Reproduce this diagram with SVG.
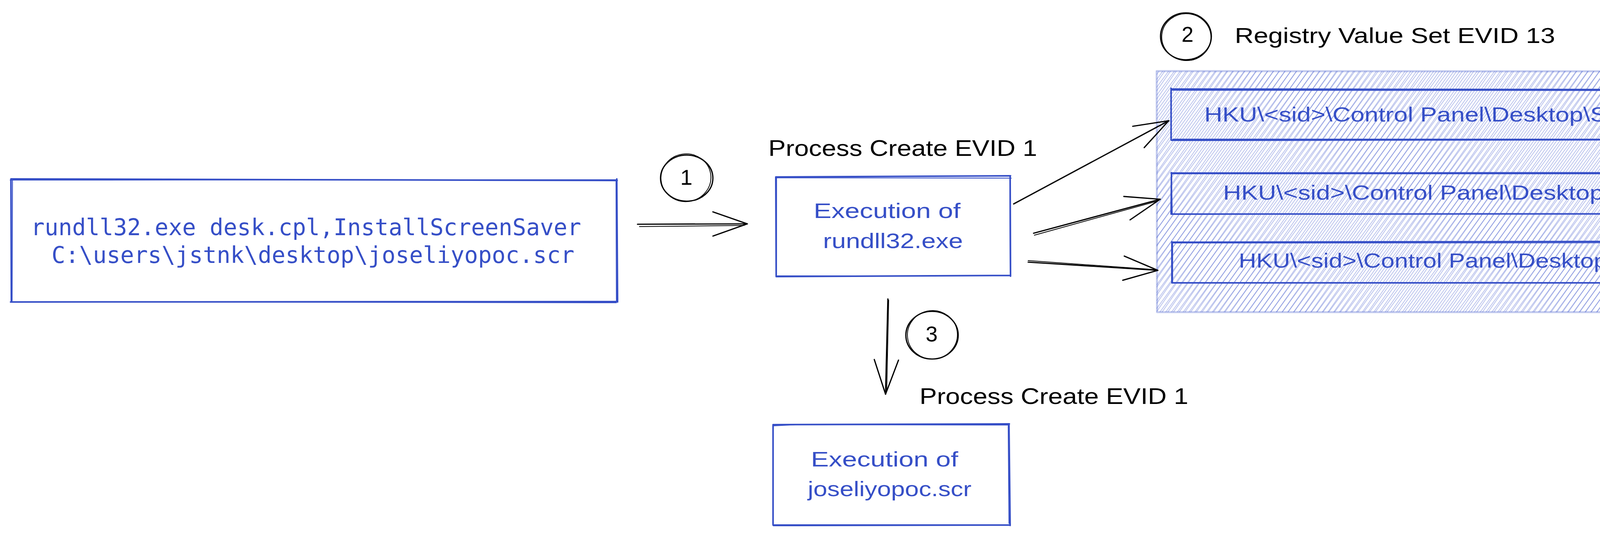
<svg xmlns="http://www.w3.org/2000/svg" width="4863" height="1372" viewBox="0 0 4863 1372">
  <defs>
    <style>
      .bx { fill: none; stroke: #364fc7; stroke-width: 4; stroke-linecap: round; stroke-linejoin: round; }
      .bx2 { fill: none; stroke: #364fc7; stroke-width: 2.2; stroke-linecap: round; stroke-linejoin: round; }
      .ln { fill: none; stroke: #000; stroke-width: 3.2; stroke-linecap: round; stroke-linejoin: round; }
      .ln2 { fill: none; stroke: #000; stroke-width: 2; stroke-linecap: round; }
      .hand { font-family: "Liberation Sans", Arial, "DejaVu Sans", sans-serif; }
      .mono { font-family: "DejaVu Sans Mono", "Liberation Mono", monospace; font-size: 58.5px; fill: #364fc7; }
      .blue { fill: #364fc7; }
      .blk { fill: #000; }
      .hl { stroke: #364fc7; stroke-opacity: 0.36; stroke-width: 1.9; }
    </style>
    <marker id="ah" viewBox="-100 -40 110 80" markerWidth="110" markerHeight="80" refX="0" refY="0" orient="auto" markerUnits="userSpaceOnUse">
      <path d="M-88,-31 L0,0 L-88,31" fill="none" stroke="#000" stroke-width="3.2" stroke-linecap="round" stroke-linejoin="round"/>
    </marker>
    <pattern id="hatchA" patternUnits="userSpaceOnUse" width="12" height="40" patternTransform="rotate(35)">
      <line class="hl" x1="3" y1="0" x2="3" y2="40"/>
    </pattern>
    <pattern id="hatchB" patternUnits="userSpaceOnUse" width="12" height="40" patternTransform="rotate(36.4) translate(5 0)">
      <line class="hl" x1="3" y1="0" x2="3" y2="40"/>
    </pattern>
  </defs>

  <rect width="4863" height="1372" fill="#fff"/>

  <!-- Registry container (hatched) -->
  <g id="registry-container">
    <rect x="2961" y="182" width="1872" height="617" fill="url(#hatchA)"/>
    <rect x="2961" y="182" width="1872" height="617" fill="url(#hatchB)"/>
    <path d="M2961,182 L4833,183 L4833,799 L2962,799 Z" fill="none" stroke="#364fc7" stroke-opacity="0.3" stroke-width="5" stroke-linejoin="round"/>
  </g>

  <!-- Source command box -->
  <g id="node-command">
    <path class="bx" d="M28,458 L1580,462 M1579,458 L1581,773 M1580,772 L27,773 M29,773 L28,458"/>
    <path class="bx2" d="M26,461 L1577,460 M1577,464 L1578,770 M1578,775 L30,772 M31,770 L32,462"/>
    <text class="mono" x="79" y="602">rundll32.exe desk.cpl,InstallScreenSaver</text>
    <text class="mono" x="132" y="673">C:\users\jstnk\desktop\joseliyopoc.scr</text>
  </g>

  <!-- Process rundll32 box -->
  <g id="node-rundll32">
    <path class="bx" d="M1986,453 L2587,450 M2586,452 L2587,707 M2587,705 L1987,708 M1987,707 L1986,453"/>
    <path class="bx2" d="M1988,455 L2589,456 M2585,455 L2586,704 M2584,706 L1990,706 M1988,704 L1988,456"/>
    <text class="hand blk" x="1967" y="399" font-size="57" textLength="688" lengthAdjust="spacingAndGlyphs">Process Create EVID 1</text>
    <text class="hand blue" x="2083" y="558" font-size="53" textLength="376" lengthAdjust="spacingAndGlyphs">Execution of</text>
    <text class="hand blue" x="2107" y="635" font-size="53" textLength="358" lengthAdjust="spacingAndGlyphs">rundll32.exe</text>
  </g>

  <!-- Process joseliyopoc box -->
  <g id="node-scr">
    <path class="bx" d="M1979,1087 L2584,1085 M2583,1086 L2586,1345 M2585,1344 L1980,1345 M1979,1344 L1979,1087"/>
    <path class="bx2" d="M1981,1090 L2040,1087 L2582,1088 M2581,1090 L2583,1340 M2582,1343 L1982,1343 M1978,1340 L1980,1090"/>
    <text class="hand blk" x="2354" y="1034" font-size="57" textLength="688" lengthAdjust="spacingAndGlyphs">Process Create EVID 1</text>
    <text class="hand blue" x="2076" y="1194" font-size="53" textLength="377" lengthAdjust="spacingAndGlyphs">Execution of</text>
    <text class="hand blue" x="2068" y="1270" font-size="53" textLength="419" lengthAdjust="spacingAndGlyphs">joseliyopoc.scr</text>
  </g>

  <!-- Registry value boxes -->
  <g id="node-reg-timeout">
    <path class="bx" d="M2998,228 L4750,230 M4749,229 L4751,358 M4750,357 L2999,359 M2998,358 L2998,226"/>
    <path class="bx2" d="M3000,231 L4748,232 M4748,233 L4749,355 M4746,356 L3002,356"/>
    <text class="hand blue" x="3083" y="311" font-size="52" textLength="1581" lengthAdjust="spacingAndGlyphs">HKU\&lt;sid&gt;\Control Panel\Desktop\ScreenSaveTimeOut</text>
  </g>
  <g id="node-reg-active">
    <path class="bx" d="M2998,443 L4785,442 M4784,443 L4785,549 M4785,547 L2999,548 M2998,548 L2999,442"/>
    <path class="bx2" d="M3000,445 L4782,445 M4782,446 L4783,546 M2999,444 L3001,546"/>
    <text class="hand blue" x="3131" y="511" font-size="52" textLength="1519" lengthAdjust="spacingAndGlyphs">HKU\&lt;sid&gt;\Control Panel\Desktop\ScreenSaveActive</text>
  </g>
  <g id="node-reg-scrnsave">
    <path class="bx" d="M3000,620 L4786,617 M4785,618 L4786,724 M4786,724 L3001,724 M3000,724 L3000,619"/>
    <path class="bx2" d="M3002,622 L4783,621 M4783,622 L4784,722 M3002,621 L3002,722"/>
    <text class="hand blue" x="3171" y="685" font-size="52" textLength="1442" lengthAdjust="spacingAndGlyphs">HKU\&lt;sid&gt;\Control Panel\Desktop\SCRNSAVE.EXE</text>
  </g>

  <!-- Step markers -->
  <g id="step-1">
    <ellipse class="ln" cx="1758" cy="456" rx="67" ry="59"/>
    <ellipse class="ln2" cx="1756" cy="455" rx="64" ry="61" transform="rotate(-8 1756 455)"/>
    <text class="hand blk" x="1757" y="473" font-size="56" text-anchor="middle">1</text>
  </g>
  <g id="step-2">
    <ellipse class="ln" cx="3036" cy="93" rx="65" ry="60"/>
    <ellipse class="ln2" cx="3037" cy="95" rx="63" ry="60" transform="rotate(6 3037 95)"/>
    <text class="hand blk" x="3040" y="107" font-size="55" text-anchor="middle">2</text>
    <text class="hand blk" x="3161" y="110" font-size="56" textLength="820" lengthAdjust="spacingAndGlyphs">Registry Value Set EVID 13</text>
  </g>
  <g id="step-3">
    <ellipse class="ln" cx="2386" cy="858" rx="67" ry="61"/>
    <ellipse class="ln2" cx="2387" cy="857" rx="64" ry="62" transform="rotate(-7 2387 857)"/>
    <text class="hand blk" x="2385" y="874" font-size="55" text-anchor="middle">3</text>
  </g>

  <!-- Connectors -->
  <g id="connectors">
    <line class="ln" x1="1632" y1="574" x2="1913" y2="573" marker-end="url(#ah)"/>
    <line class="ln2" x1="1637" y1="580" x2="1905" y2="577"/>

    <line class="ln" x1="2595" y1="522" x2="2992" y2="309" marker-end="url(#ah)"/>
    <line class="ln2" x1="2598" y1="520" x2="2985" y2="313"/>

    <line class="ln" x1="2646" y1="597" x2="2970" y2="510" marker-end="url(#ah)"/>
    <line class="ln2" x1="2648" y1="602" x2="2962" y2="515"/>

    <line class="ln" x1="2632" y1="671" x2="2964" y2="692" marker-end="url(#ah)"/>
    <line class="ln2" x1="2632" y1="667" x2="2955" y2="690"/>

    <line class="ln" x1="2273" y1="765" x2="2267" y2="1009" marker-end="url(#ah)"/>
    <line class="ln2" x1="2275" y1="768" x2="2270" y2="1000"/>
  </g>
</svg>
